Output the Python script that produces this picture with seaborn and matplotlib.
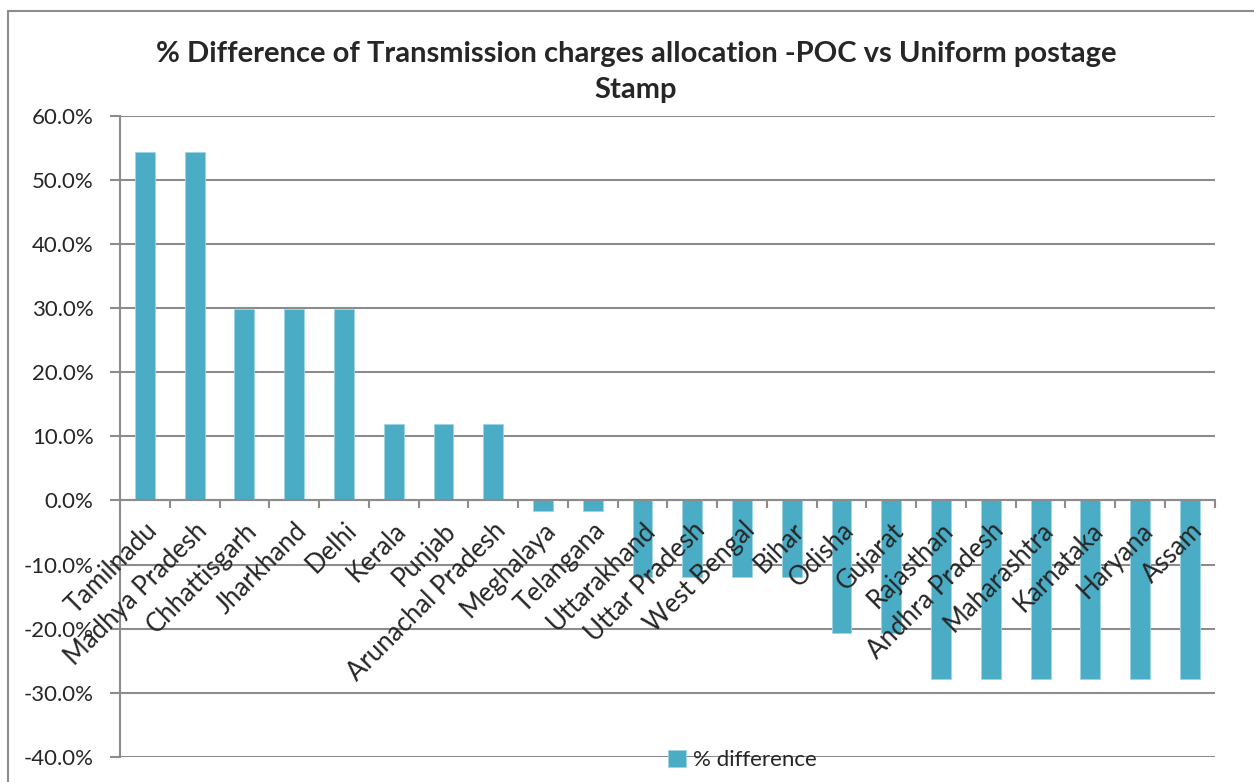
import matplotlib
matplotlib.use("Agg")
import matplotlib.pyplot as plt
import seaborn as sns
import pandas as pd
from matplotlib.ticker import PercentFormatter, FixedLocator
from matplotlib.lines import Line2D

states = ['Tamilnadu', 'Madhya Pradesh', 'Chhattisgarh', 'Jharkhand', 'Delhi', 'Kerala',
          'Punjab', 'Arunachal Pradesh', 'Meghalaya', 'Telangana', 'Uttarakhand',
          'Uttar Pradesh', 'West Bengal', 'Bihar', 'Odisha', 'Gujarat', 'Rajasthan',
          'Andhra Pradesh', 'Maharashtra', 'Karnataka', 'Haryana', 'Assam']
pct_diff = [0.543, 0.543, 0.298, 0.298, 0.298, 0.119, 0.119, 0.119, -0.016, -0.016,
            -0.120, -0.120, -0.120, -0.120, -0.206, -0.206, -0.278, -0.278, -0.278,
            -0.278, -0.278, -0.278]
y_ticks = [-0.4, -0.3, -0.2, -0.1, 0, 0.1, 0.2, 0.3, 0.4, 0.5, 0.6]
series_name = '% difference'
title = '% Difference of Transmission charges allocation -POC vs Uniform postage\nStamp'

df = pd.DataFrame({'state': states, 'value': pct_diff})

sns.set_style('white')
plt.rcParams['font.family'] = ['Lato', 'DejaVu Sans']
plt.rcParams['axes.unicode_minus'] = False

bar_color = '#4BACC6'
grid_color = '#8c8c8c'

fig = plt.figure(figsize=(12.54, 7.82), dpi=100)
ax = fig.add_axes([0.0957, 0.032, 0.873, 0.820])

sns.barplot(data=df, x='state', y='value', color=bar_color, saturation=1, width=0.4,
            edgecolor='#9fd4e2', linewidth=0.6, label=series_name, ax=ax, zorder=3)

ax.set_ylim(-0.4, 0.6)
ax.set_xlim(-0.5, len(states) - 0.5)
ax.yaxis.set_major_locator(FixedLocator(y_ticks))
ax.yaxis.set_major_formatter(PercentFormatter(xmax=1, decimals=1))
ax.grid(axis='y', color=grid_color, linewidth=1.5)
ax.set_axisbelow(True)
ax.xaxis.set_zorder(5)

for s in ['top', 'right']:
    ax.spines[s].set_visible(False)
ax.spines['left'].set_color(grid_color)
ax.spines['left'].set_linewidth(1.5)
ax.spines['bottom'].set_position(('data', 0))
ax.spines['bottom'].set_color(grid_color)
ax.spines['bottom'].set_linewidth(1.5)
ax.spines['bottom'].set_zorder(4)

ax.tick_params(axis='y', which='major', left=True, length=7, width=1.5, color=grid_color,
               labelsize=16, pad=12)
ax.tick_params(axis='x', which='major', bottom=False, labelsize=18.5, pad=9)
ax.set_xticks(range(len(states)))
ax.set_xticklabels(states, rotation=45, ha='right', va='top', rotation_mode='anchor')
ax.set_xticks([i - 0.5 for i in range(len(states) + 1)], minor=True)
ax.tick_params(axis='x', which='minor', bottom=True, length=6, width=1.5, color=grid_color)
ax.set_xlabel('')
ax.set_ylabel('')

if ax.legend_:
    ax.legend_.remove()
handles, labels = ax.get_legend_handles_labels()
fig.legend(handles[:1], labels[:1], loc='center', bbox_to_anchor=(0.592, 0.028),
           frameon=False, fontsize=16, handlelength=0.8, handleheight=0.8,
           handletextpad=0.3)

fig.text(0.507, 0.908, title, ha='center', va='center', fontsize=21,
         fontweight='bold', linespacing=1.45)

# chart area border (right and bottom edges fall outside the picture)
fig.add_artist(Line2D([8 / 1254, 8 / 1254], [0, 1 - 11 / 782], transform=fig.transFigure,
                      color=grid_color, linewidth=1.5))
fig.add_artist(Line2D([8 / 1254, 1], [1 - 11 / 782, 1 - 11 / 782], transform=fig.transFigure,
                      color=grid_color, linewidth=1.5))

fig.savefig('out.png', dpi=100)
